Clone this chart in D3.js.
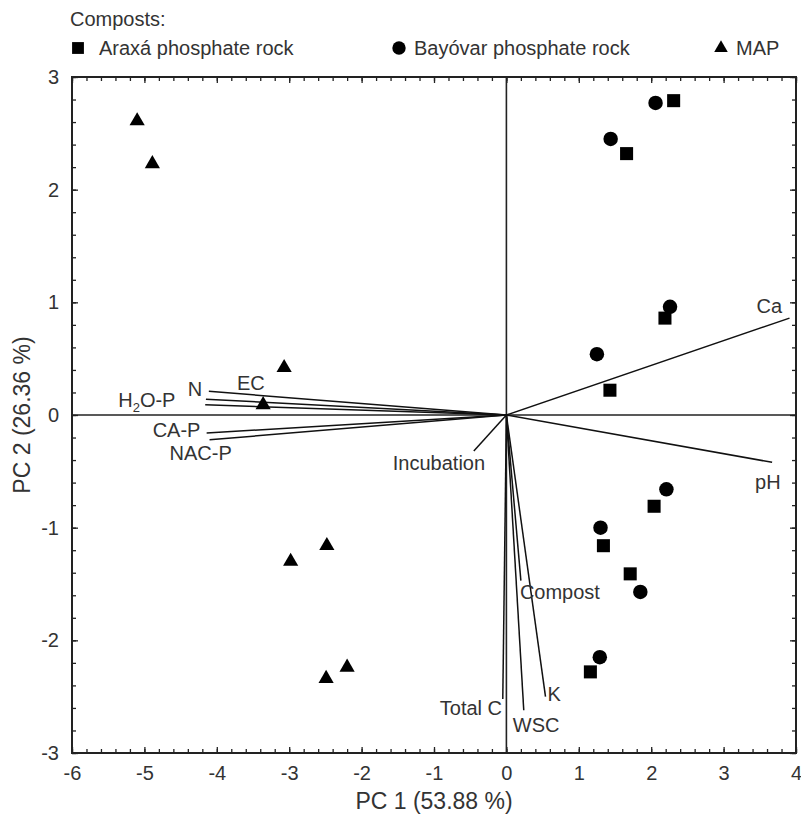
<!DOCTYPE html>
<html>
<head>
<meta charset="utf-8">
<script src="https://cdn.jsdelivr.net/npm/d3@7"></script>
<style>
  body { margin: 0; background: #fff; }
  text { font-family: "Liberation Sans", Arial, sans-serif; fill: #333; }
</style>
</head>
<body>
<div id="chart"></div>
<script>
// ---- data (scores) ----
var araxaX = [2.31, 1.66, 2.19, 1.43, 2.04, 1.34, 1.71, 1.16];
var araxaY = [2.79, 2.32, 0.86, 0.22, -0.81, -1.16, -1.41, -2.28];

var bayovarX = [2.06, 1.44, 2.26, 1.25, 2.21, 1.30, 1.85, 1.29];
var bayovarY = [2.77, 2.45, 0.96, 0.54, -0.66, -1.00, -1.57, -2.15];

var mapX = [-5.10, -4.89, -3.07, -3.36, -2.98, -2.48, -2.49, -2.20];
var mapY = [2.61, 2.23, 0.42, 0.09, -1.30, -1.16, -2.34, -2.24];

// ---- data (loadings) ----
var loadNames = ["N", "EC", "H2O-P", "CA-P", "NAC-P", "Incubation", "Total C", "WSC", "K", "Compost", "Ca", "pH"];
var loadX = [-4.11, -4.15, -4.16, -4.14, -4.10, -0.45, -0.05, 0.24, 0.54, 0.20, 3.91, 3.67];
var loadY = [0.21, 0.14, 0.09, -0.16, -0.22, -0.32, -2.52, -2.62, -2.50, -1.47, 0.86, -0.42];

var xTicks = [-6, -5, -4, -3, -2, -1, 0, 1, 2, 3, 4];
var yTicks = [-3, -2, -1, 0, 1, 2, 3];

var legendNames = ["Araxá phosphate rock", "Bayóvar phosphate rock", "MAP"];

// label placement relative to the loading end point (pixels, text centre)
var labelPos = {
  "N": {dx: -21, dy: -2},
  "EC": {dx: 31, dy: -16},
  "H2O-P": {dx: -87, dy: -5},
  "CA-P": {dx: -54, dy: -3},
  "NAC-P": {dx: -40, dy: 13},
  "Incubation": {dx: -81, dy: 12},
  "Total C": {dx: -63, dy: 9},
  "WSC": {dx: -11, dy: 15},
  "K": {dx: 2, dy: -3},
  "Compost": {dx: -1, dy: 11},
  "Ca": {dx: -33, dy: -12},
  "pH": {dx: -17, dy: 20}
};

var W = 801, H = 817;
var margin = {top: 77, right: 5, bottom: 64, left: 72};
var width = W - margin.left - margin.right;
var height = H - margin.top - margin.bottom;

var svg = d3.select("#chart").append("svg")
    .attr("width", W)
    .attr("height", H);

var g = svg.append("g")
    .attr("transform", "translate(" + margin.left + "," + margin.top + ")");

var x = d3.scaleLinear().domain([-6, 4]).range([0, width]);
var y = d3.scaleLinear().domain([-3, 3]).range([height, 0]);

var minorX = d3.range(-6, 4.001, 0.2).map(d => +d.toFixed(1));
var minorY = d3.range(-3, 3.001, 0.2).map(d => +d.toFixed(1));

// minor ticks (inside)
function minorAxis(axis, scale, vals, tr) {
  g.append("g").attr("class", "minor")
    .attr("transform", tr)
    .call(axis(scale).tickValues(vals).tickSize(-4).tickFormat(""))
    .call(a => a.select(".domain").remove());
}
minorAxis(d3.axisBottom, x, minorX, "translate(0," + height + ")");
minorAxis(d3.axisTop, x, minorX, "translate(0,0)");
minorAxis(d3.axisLeft, y, minorY, "translate(0,0)");
minorAxis(d3.axisRight, y, minorY, "translate(" + width + ",0)");

// major axes
var fmt = d => String(d);
var xAxis = d3.axisBottom(x).tickValues(xTicks).tickSize(-6).tickPadding(13).tickFormat(fmt);
var yAxis = d3.axisLeft(y).tickValues(yTicks).tickSize(-6).tickPadding(13).tickFormat(fmt);

g.append("g").attr("class", "x-axis")
    .attr("transform", "translate(0," + height + ")")
    .call(xAxis);
g.append("g").attr("class", "y-axis")
    .call(yAxis);
g.append("g").attr("transform", "translate(0,0)")
    .call(d3.axisTop(x).tickValues(xTicks).tickSize(-6).tickFormat(""));
g.append("g").attr("transform", "translate(" + width + ",0)")
    .call(d3.axisRight(y).tickValues(yTicks).tickSize(-6).tickFormat(""));

g.selectAll(".tick line").attr("stroke", "#222").attr("stroke-width", 1.3);
g.selectAll(".domain").remove();
g.selectAll(".x-axis text, .y-axis text")
    .style("font-size", "20px")
    .attr("fill", "#333");
g.selectAll(".x-axis text").attr("dy", "0.71em");

// frame
g.append("rect")
    .attr("width", width).attr("height", height)
    .attr("fill", "none").attr("stroke", "#222").attr("stroke-width", 2);

// zero lines
g.append("line")
    .attr("x1", x(0)).attr("x2", x(0)).attr("y1", 0).attr("y2", height)
    .attr("stroke", "#222").attr("stroke-width", 1.6);
g.append("line")
    .attr("x1", 0).attr("x2", width).attr("y1", y(0)).attr("y2", y(0))
    .attr("stroke", "#222").attr("stroke-width", 1.6);

// loadings
var loadings = loadNames.map((n, i) => ({name: n, x: loadX[i], y: loadY[i]}));

g.selectAll(".load")
    .data(loadings)
  .enter().append("line")
    .attr("class", "load")
    .attr("x1", x(0)).attr("y1", y(0))
    .attr("x2", d => x(d.x)).attr("y2", d => y(d.y))
    .attr("stroke", "#111").attr("stroke-width", 1.5);

var labels = g.selectAll(".load-label")
    .data(loadings)
  .enter().append("text")
    .attr("class", "load-label")
    .attr("x", d => x(d.x) + labelPos[d.name].dx)
    .attr("y", d => y(d.y) + labelPos[d.name].dy + 7)
    .style("font-size", "20px");

labels.each(function(d) {
  var t = d3.select(this);
  if (d.name === "H2O-P") {
    t.append("tspan").text("H");
    t.append("tspan").text("2").style("font-size", "13px").attr("dy", 5);
    t.append("tspan").text("O-P").attr("dy", -5);
  } else {
    t.text(d.name);
  }
});

// scores
function drawPoints(xs, ys, type, cls, size) {
  var pts = xs.map((v, i) => ({x: v, y: ys[i]}));
  g.selectAll("." + cls)
      .data(pts)
    .enter().append("path")
      .attr("class", cls)
      .attr("transform", d => "translate(" + x(d.x) + "," + y(d.y) + ")")
      .attr("d", d3.symbol().type(type).size(size))
      .attr("fill", "#000");
}
drawPoints(araxaX, araxaY, d3.symbolSquare, "pt-araxa", 170);
drawPoints(bayovarX, bayovarY, d3.symbolCircle, "pt-bayovar", 165);
drawPoints(mapX, mapY, d3.symbolTriangle, "pt-map", 100);

// axis titles (centred on the plot area)
svg.append("text")
    .attr("x", margin.left + width / 2)
    .attr("y", 809)
    .attr("text-anchor", "middle")
    .style("font-size", "23px")
    .text("PC 1 (53.88 %)");

svg.append("text")
    .attr("transform", "translate(30," + (margin.top + height / 2) + ") rotate(-90)")
    .attr("text-anchor", "middle")
    .style("font-size", "23px")
    .text("PC 2 (26.36 %)");

// legend
svg.append("text")
    .attr("x", 70).attr("y", 26)
    .style("font-size", "20px")
    .text("Composts:");

var legTypes = [d3.symbolSquare, d3.symbolCircle, d3.symbolTriangle];
var legX = [78, 399, 721];
var legend = svg.selectAll(".leg")
    .data(legendNames)
  .enter().append("g")
    .attr("class", "leg")
    .attr("transform", (d, i) => "translate(" + legX[i] + ",48)");
legend.append("path")
    .attr("d", (d, i) => d3.symbol().type(legTypes[i]).size(i === 2 ? 80 : 140)())
    .attr("fill", "#000");
legend.append("text")
    .attr("x", (d, i) => i === 0 ? 21 : 15).attr("y", 7)
    .style("font-size", "20px")
    .text(d => d);
</script>
</body>
</html>
